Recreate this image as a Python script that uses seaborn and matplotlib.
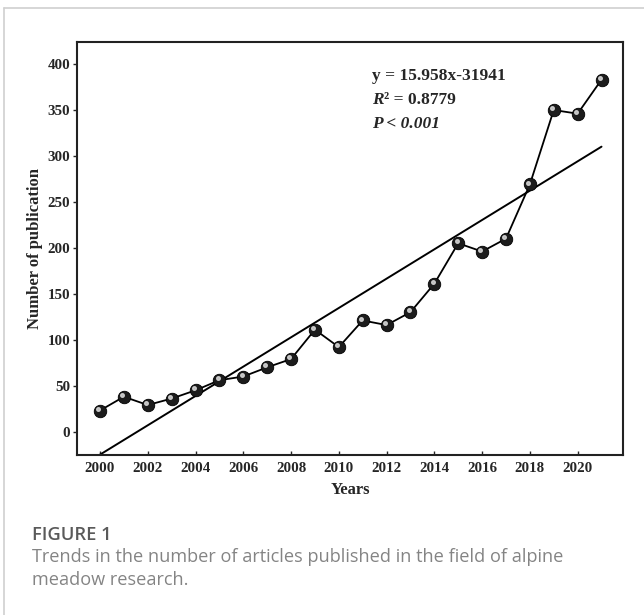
import numpy as np
import pandas as pd
import matplotlib
matplotlib.use("Agg")
import matplotlib.pyplot as plt
import matplotlib.transforms as mtransforms
from matplotlib.lines import Line2D
import seaborn as sns

# data
years = list(range(2000, 2022))
counts = [23, 38, 29, 36, 45, 56, 60, 70, 79, 111, 92, 121, 116, 130, 161,
          205, 196, 210, 269, 350, 346, 383]
slope = 15.958
intercept = -31941
x_ticks = list(range(2000, 2021, 2))
y_ticks = [0, 50, 100, 150, 200, 250, 300, 350, 400]

sns.set_theme(style="ticks")
plt.rcParams['font.family'] = ['Liberation Serif', 'DejaVu Serif']

df = pd.DataFrame({"Years": years, "Count": counts})
fit = pd.DataFrame({"Years": [years[0], years[-1]]})
fit["Count"] = slope * fit["Years"] + intercept

fig = plt.figure(figsize=(6.44, 6.15), dpi=100)
ax = fig.add_axes([0.120, 0.260, 0.8474, 0.6717])

sns.lineplot(data=fit, x="Years", y="Count", ax=ax, color="black", lw=1.4)
sns.lineplot(data=df, x="Years", y="Count", ax=ax, color="black", lw=1.3,
             marker="o", markersize=9, markerfacecolor="#1c1c1c",
             markeredgecolor="black", markeredgewidth=0.6)
# little glossy highlight on each ball
hl = mtransforms.offset_copy(ax.transData, fig=fig, x=-1.2, y=1.4, units="points")
ax.plot(df["Years"], df["Count"], ls="none", marker="o", markersize=2.6,
        color="#d8d8d8", alpha=0.85, transform=hl, zorder=5)

ax.set_xlim(1999.05, 2021.9)
ax.set_ylim(-25.5, 424)
ax.set_xticks(x_ticks)
ax.set_yticks(y_ticks)
ax.tick_params(axis="x", direction="in", length=3, width=1, pad=5)
ax.tick_params(axis="y", direction="out", length=3, width=1, pad=2)
for lab in ax.get_xticklabels() + ax.get_yticklabels():
    lab.set_fontweight("bold")
    lab.set_fontsize(10.8)
for s in ax.spines.values():
    s.set_linewidth(1.5)
    s.set_color("#222222")

ax.set_xlabel("Years", fontsize=12, fontweight="bold", labelpad=5)
ax.set_ylabel("Number of publication", fontsize=12, fontweight="bold", labelpad=3)

ax.text(0.54, 0.936, "y = 15.958x-31941", transform=ax.transAxes,
        fontsize=12.5, fontweight="bold", va="top")
r_txt = ax.text(0.54, 0.879, "R", transform=ax.transAxes, fontsize=12.5,
                fontweight="bold", fontstyle="italic", va="top")
ax.annotate("\u00b2 = 0.8779", xy=(1, 0), xycoords=r_txt, fontsize=12.5,
            fontweight="bold", va="bottom", ha="left")
ax.text(0.54, 0.822, "P < 0.001", transform=ax.transAxes,
        fontsize=12.5, fontweight="bold", fontstyle="italic", va="top")

# caption
fig.text(32 / 644, 1 - 535 / 615, "FIGURE 1", family="Open Sans", fontsize=13.2,
         fontweight="semibold", color="#5a5a5a", va="center")
fig.text(32 / 644, 1 - 557 / 615,
         "Trends in the number of articles published in the field of alpine",
         family="Open Sans", fontsize=13.1, color="#848484", va="center")
fig.text(32 / 644, 1 - 580 / 615, "meadow research.",
         family="Open Sans", fontsize=13.1, color="#848484", va="center")

# light frame of the figure panel
fig.add_artist(Line2D([4 / 644, 1.0], [1 - 8 / 615, 1 - 8 / 615],
                      transform=fig.transFigure, color="#d0d0d0", lw=1.2))
fig.add_artist(Line2D([4 / 644, 4 / 644], [0.0, 1 - 8 / 615],
                      transform=fig.transFigure, color="#d0d0d0", lw=1.2))

fig.savefig("out.png", dpi=100)
